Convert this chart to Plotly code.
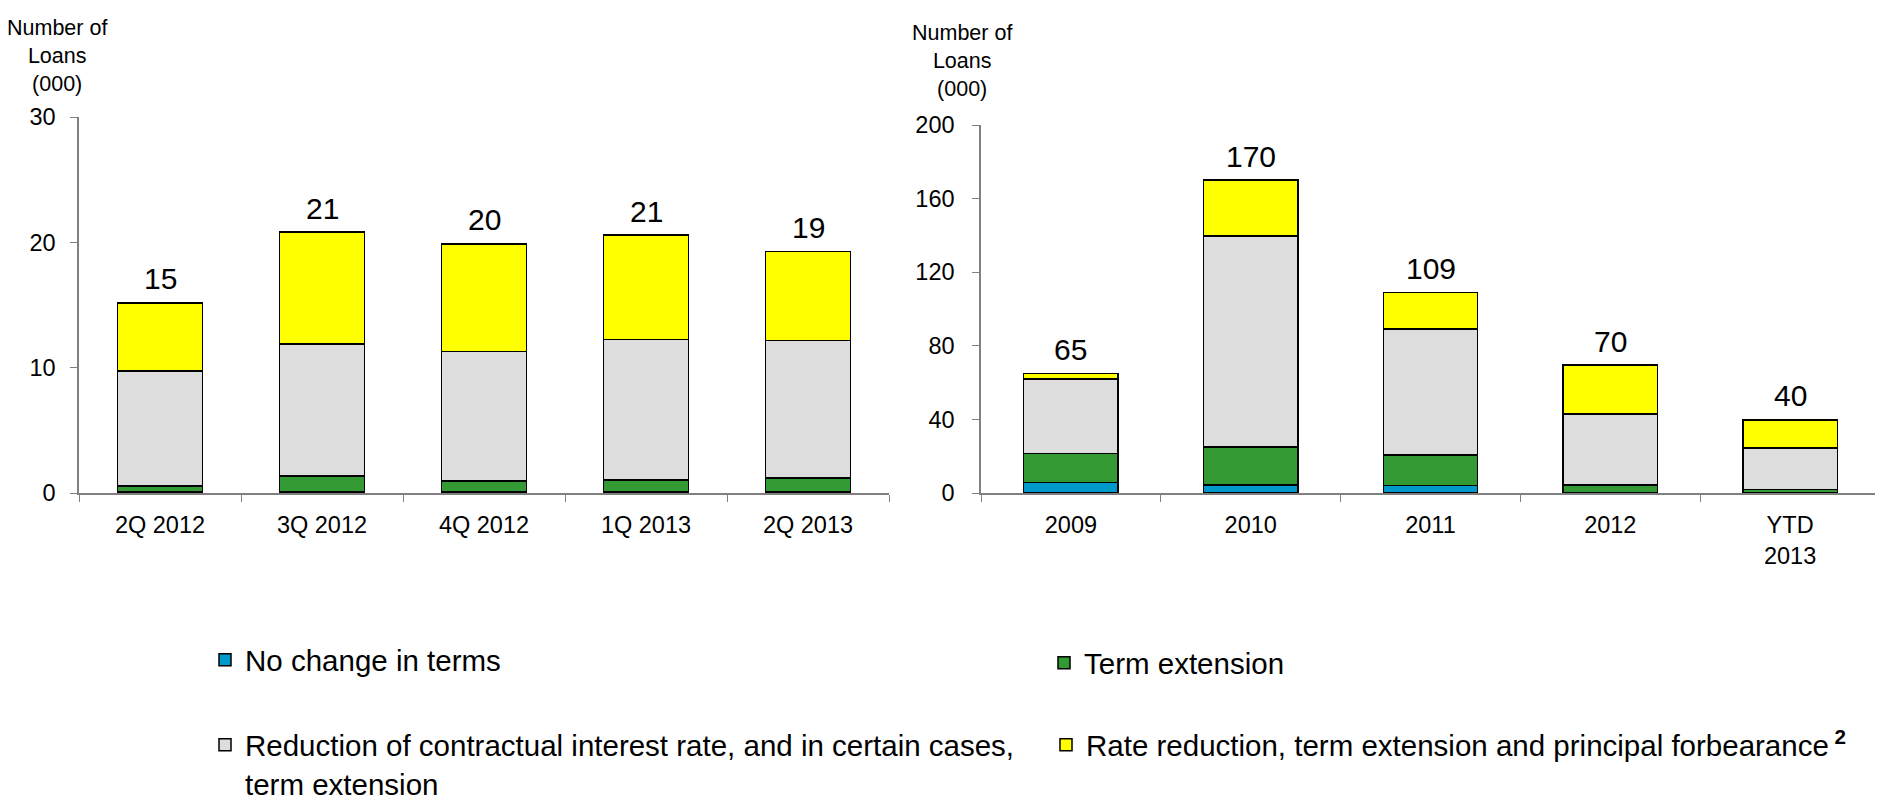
import plotly.graph_objects as go

# ---------------- data ----------------
q_cats = ["2Q 2012", "3Q 2012", "4Q 2012", "1Q 2013", "2Q 2013"]
q_no_change = [0.1, 0.1, 0.1, 0.1, 0.1]
q_term_ext = [0.46, 1.27, 0.87, 0.92, 1.1]
q_rate_red = [9.18, 10.52, 10.31, 11.23, 10.96]
q_forbear = [5.42, 8.93, 8.6, 8.32, 7.11]
q_totals = [15.16, 20.82, 19.88, 20.57, 19.27]
q_labels = ["15", "21", "20", "21", "19"]

y_cats = ["2009", "2010", "2011", "2012", "YTD<br>2013"]
y_no_change = [5.6, 4.4, 4.2, 0.4, 0.3]
y_term_ext = [15.8, 20.6, 16.5, 4.0, 1.7]
y_rate_red = [40.6, 114.6, 68.3, 38.6, 22.5]
y_forbear = [2.9, 30.5, 20.0, 26.5, 15.2]
y_totals = [64.9, 170.1, 109.0, 69.5, 39.7]
y_labels = ["65", "170", "109", "70", "40"]

left_ticks = [0, 10, 20, 30]
right_ticks = [0, 40, 80, 120, 160, 200]

series_names = [
    "No change in terms",
    "Term extension",
    "Reduction of contractual interest rate, and in certain cases,<br>term extension",
    "Rate reduction, term extension and principal forbearance<sup> <b>2</b></sup>",
]
colors = ["#0099CC", "#339933", "#DDDDDD", "#FFFF00"]
legend_ids = ["legend", "legend2", "legend3", "legend4"]

FONT = "Arial, Liberation Sans, sans-serif"
# the page body has an 8px margin, so the figure is sized to fit the window
OFF = 8
W, H = 1883 - OFF, 800 - OFF


def px(sx):
    return (sx - OFF) / W


def py(sy):
    return 1 - (sy - OFF) / H


fig = go.Figure()

# stacking order: blue, green, gray, yellow
q_stack = [q_no_change, q_term_ext, q_rate_red, q_forbear]
y_stack = [y_no_change, y_term_ext, y_rate_red, y_forbear]

for i in range(4):
    fig.add_trace(go.Bar(
        x=q_cats, y=q_stack[i], name=series_names[i],
        marker=dict(color=colors[i], line=dict(color="black", width=1.5)),
        width=0.525, xaxis="x", yaxis="y",
        legend=legend_ids[i], showlegend=True, legendgroup=str(i),
        hoverinfo="skip",
    ))
    fig.add_trace(go.Bar(
        x=y_cats, y=y_stack[i], name=series_names[i],
        marker=dict(color=colors[i], line=dict(color="black", width=1.5)),
        width=0.525, xaxis="x2", yaxis="y2",
        showlegend=False, legendgroup=str(i),
        hoverinfo="skip",
    ))

# total labels above the stacks, placed in data coordinates (category index)
for cats, totals, labels, xr, yr in [(q_cats, q_totals, q_labels, "x", "y"),
                                     (y_cats, y_totals, y_labels, "x2", "y2")]:
    for idx, (t, lab) in enumerate(zip(totals, labels)):
        fig.add_annotation(x=idx, y=t, xref=xr, yref=yr, text=lab, showarrow=False,
                           xanchor="center", yanchor="middle", yshift=24,
                           font=dict(size=30, color="black", family=FONT))

axis_common = dict(
    showline=True, linecolor="#808080", linewidth=1.5,
    ticks="outside", tickcolor="#808080", tickwidth=1.2, ticklen=7,
    showgrid=False, zeroline=False, automargin=False,
    tickfont=dict(size=23.5, color="black", family=FONT),
)

fig.update_layout(
    width=W, height=H,
    margin=dict(l=0, r=0, t=0, b=0, autoexpand=False),
    paper_bgcolor="white", plot_bgcolor="white",
    barmode="stack",
    font=dict(family=FONT, color="black"),
    xaxis=dict(domain=[px(79), px(889)], type="category", tickson="boundaries",
               range=[-0.5, len(q_cats) - 0.5],
               anchor="y", ticklabelstandoff=10, **axis_common),
    yaxis=dict(domain=[py(493), py(117)], range=[0, 30],
               tickvals=left_ticks, anchor="x", ticklabelstandoff=10, **axis_common),
    xaxis2=dict(domain=[px(981), px(1880)], type="category", tickson="boundaries",
                range=[-0.5, len(y_cats) - 0.5],
                anchor="y2", ticklabelstandoff=10, **axis_common),
    yaxis2=dict(domain=[py(493), py(125)], range=[0, 200],
                tickvals=right_ticks, anchor="x2", ticklabelstandoff=13, **axis_common),
)

legend_common = dict(bgcolor="rgba(0,0,0,0)", font=dict(size=29.5, color="black", family=FONT),
                     xanchor="left", yanchor="middle", itemclick=False, itemdoubleclick=False)
fig.update_layout(
    legend=dict(x=px(205), y=py(660), **legend_common),
    legend2=dict(x=px(1044), y=py(663), **legend_common),
    legend3=dict(x=px(205), y=py(764), valign="top", **legend_common),
    legend4=dict(x=px(1046), y=py(745), **legend_common),
)

fig.add_annotation(text="Number of<br>Loans<br>(000)", x=px(57), y=py(56),
                   xref="paper", yref="paper", showarrow=False, xanchor="center", yanchor="middle",
                   font=dict(size=21.5, color="black", family=FONT))
fig.add_annotation(text="Number of<br>Loans<br>(000)", x=px(962), y=py(61),
                   xref="paper", yref="paper", showarrow=False, xanchor="center", yanchor="middle",
                   font=dict(size=21.5, color="black", family=FONT))

fig.write_html("out.html")
